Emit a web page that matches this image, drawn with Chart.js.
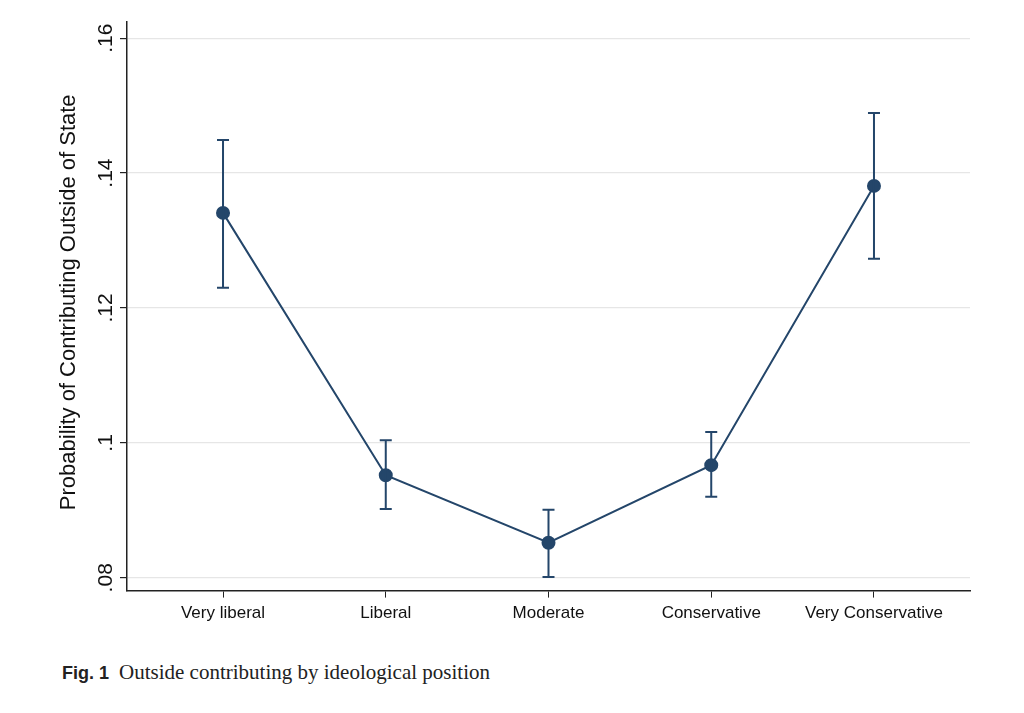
<!DOCTYPE html>
<html>
<head>
    <style>
        body { margin: 0; background: #fff; font-family: 'Liberation Sans', Arial, sans-serif; }
        #wrap { position: relative; width: 1024px; height: 640px; }
        .caption { margin: 20px 0 0 62px; font-family: 'Liberation Serif', 'Times New Roman', serif; font-size: 21px; color: #222; }
        .caption b { font-family: 'Liberation Sans', Arial, sans-serif; font-size: 18px; margin-right: 10px; }
    </style>
    <script src="https://cdn.jsdelivr.net/npm/chart.js"></script>
</head>
<body>
    <div id="wrap"><canvas id="c"></canvas></div>
    <div class="caption"><b>Fig. 1</b>Outside contributing by ideological position</div>
    <script>
        const categories = ['Very liberal', 'Liberal', 'Moderate', 'Conservative', 'Very Conservative'];
        const estimates = [0.1341, 0.0952, 0.0852, 0.0967, 0.1381];
        const upper = [0.1449, 0.1004, 0.0901, 0.1016, 0.1489];
        const lower = [0.1230, 0.0902, 0.0801, 0.0920, 0.1273];
        const yTicks = [0.08, 0.10, 0.12, 0.14, 0.16];
        const yTickLabels = ['.08', '.1', '.12', '.14', '.16'];
        const navy = '#24466a';

        // error bars plus the rotated y labels, drawn through the scales
        const extras = {
            id: 'extras',
            afterDatasetsDraw(chart) {
                const ctx = chart.ctx, x = chart.scales.x, y = chart.scales.y;
                ctx.save();
                ctx.strokeStyle = navy;
                ctx.lineWidth = 2;
                estimates.forEach((v, i) => {
                    const px = x.getPixelForValue(i);
                    const top = y.getPixelForValue(upper[i]), bot = y.getPixelForValue(lower[i]);
                    ctx.beginPath();
                    ctx.moveTo(px, top); ctx.lineTo(px, bot);
                    ctx.moveTo(px - 6, top); ctx.lineTo(px + 6, top);
                    ctx.moveTo(px - 6, bot); ctx.lineTo(px + 6, bot);
                    ctx.stroke();
                });
                ctx.fillStyle = '#111';
                ctx.font = '21px "Liberation Sans", Arial, sans-serif';
                ctx.textAlign = 'center';
                ctx.textBaseline = 'bottom';
                const left = chart.chartArea.left;
                yTicks.forEach((t, i) => {
                    ctx.save();
                    ctx.translate(left - 10, y.getPixelForValue(t));
                    ctx.rotate(-Math.PI / 2);
                    ctx.fillText(yTickLabels[i], 0, 0);
                    ctx.restore();
                });
                ctx.font = '22px "Liberation Sans", Arial, sans-serif';
                ctx.save();
                ctx.translate(80, (chart.chartArea.top + chart.chartArea.bottom) / 2 - 4);
                ctx.rotate(-Math.PI / 2);
                ctx.fillText('Probability of Contributing Outside of State', 0, 0);
                ctx.restore();
                ctx.restore();
            }
        };

        new Chart(document.getElementById('c'), {
            type: 'line',
            data: {
                datasets: [{
                    data: estimates.map((v, i) => ({ x: i, y: v })),
                    borderColor: navy,
                    backgroundColor: navy,
                    borderWidth: 2,
                    pointRadius: 6,
                    pointHoverRadius: 6,
                    tension: 0
                }]
            },
            options: {
                responsive: true,
                maintainAspectRatio: false,
                animation: false,
                layout: { padding: { left: 120, top: 22, right: 54, bottom: 10 } },
                plugins: { legend: { display: false }, tooltip: { enabled: false } },
                scales: {
                    x: {
                        type: 'linear', min: -0.59, max: 4.59,
                        afterBuildTicks: s => { s.ticks = categories.map((c, i) => ({ value: i })); },
                        ticks: { callback: v => categories[v], color: '#111', font: { size: 17 }, padding: 6, autoSkip: false, maxRotation: 0 },
                        grid: { drawOnChartArea: false, tickLength: 7, color: '#222' },
                        border: { color: '#222', width: 1.5 }
                    },
                    y: {
                        min: 0.0781, max: 0.1624,
                        afterBuildTicks: s => { s.ticks = yTicks.map(v => ({ value: v })); },
                        ticks: { display: false },
                        grid: { color: '#e6e6e6', tickLength: 7, tickColor: '#222', lineWidth: 1.2 },
                        border: { color: '#222', width: 1.5 }
                    }
                }
            },
            plugins: [extras]
        });
    </script>
</body>
</html>
